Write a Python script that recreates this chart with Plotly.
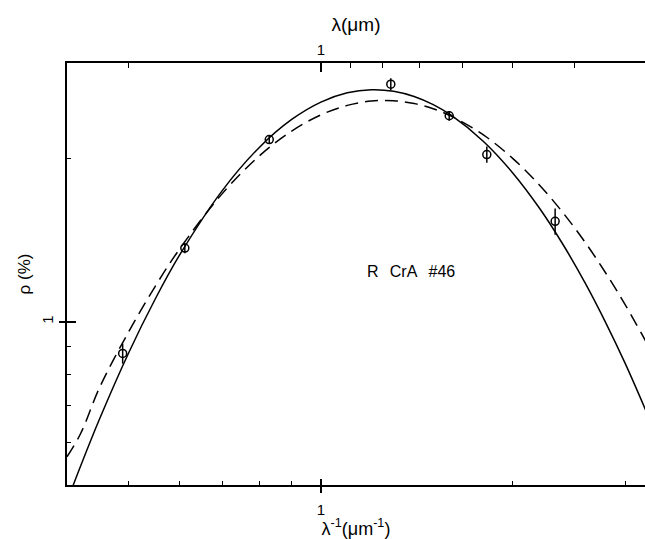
import numpy as np
import plotly.graph_objects as go

# Observations: inverse wavelength (um^-1), polarization (%), 1-sigma error (%)
obs_inv_lambda = [0.489, 0.612, 0.830, 1.287, 1.589, 1.820, 2.329]
obs_pol = [0.874, 1.367, 2.167, 2.742, 2.398, 2.034, 1.532]
obs_err = [0.037, 0.029, 0.036, 0.070, 0.050, 0.070, 0.085]

# Model curves
curve_inv_lambda = [0.40, 0.42, 0.45, 0.50, 0.55, 0.60, 0.70, 0.80, 0.90, 1.00, 1.10, 1.20,
                    1.30, 1.40, 1.50, 1.60, 1.80, 2.00, 2.20, 2.40, 2.60, 2.80, 3.00, 3.25]
solid_pol = [0.466, 0.5415, 0.6624, 0.8778, 1.1013, 1.3251, 1.7434, 2.0941, 2.3603, 2.5410,
             2.6430, 2.6786, 2.6614, 2.6028, 2.5138, 2.4034, 2.1478, 1.8793, 1.6207, 1.3837,
             1.1741, 0.9922, 0.8369, 0.6750]
dashed_pol = [0.5638, 0.6215, 0.7568, 0.9592, 1.1623, 1.3600, 1.7211, 2.0196, 2.2473, 2.4072,
              2.5057, 2.5522, 2.5557, 2.5258, 2.4700, 2.3949, 2.2084, 1.9994, 1.7876, 1.5845,
              1.3969, 1.2262, 1.0744, 0.9087]

# Axis ticks
x_major = [1]
x_minor = [0.5, 0.6, 0.7, 0.8, 0.9, 2, 3]
top_lambda_major = [1]
top_lambda_minor = [2, 0.9, 0.8, 0.7, 0.6, 0.5, 0.4]
y_major = [1]
y_minor = [0.6, 0.7, 0.8, 0.9, 2]

label_text = "R\u2002\u2009CrA\u2002\u2009#46"
label_pos = (1.384, 1.24)

x_lo = 0.4
x_hi = 0.4 * 10 ** (578 / 638)
xr = [np.log10(x_lo), np.log10(x_hi)]
yr = [np.log10(0.5), np.log10(3.0)]

FONT = "Liberation Sans, Arial, sans-serif"

fig = go.Figure()
fig.add_trace(go.Scatter(x=curve_inv_lambda, y=dashed_pol, mode="lines", line_shape="spline",
                         line=dict(color="black", width=1.5, dash="13px,7px"), showlegend=False))
fig.add_trace(go.Scatter(x=curve_inv_lambda, y=solid_pol, mode="lines", line_shape="spline",
                         line=dict(color="black", width=1.5), showlegend=False))
fig.add_trace(go.Scatter(x=obs_inv_lambda, y=obs_pol, mode="markers",
                         marker=dict(symbol="circle-open", size=8, color="black",
                                     line=dict(width=1.5, color="black")),
                         error_y=dict(type="data", array=obs_err, visible=True,
                                      color="black", thickness=1.5, width=0),
                         showlegend=False))

# helper invisible traces to activate overlay axes
fig.add_trace(go.Scatter(x=[1], y=[1], xaxis="x2", yaxis="y", mode="markers",
                         marker=dict(opacity=0), showlegend=False, hoverinfo="skip"))
fig.add_trace(go.Scatter(x=[1], y=[1], xaxis="x3", yaxis="y2", mode="markers",
                         marker=dict(opacity=0), showlegend=False, hoverinfo="skip"))

fig.add_annotation(x=np.log10(label_pos[0]), y=np.log10(label_pos[1]), xref="x", yref="y",
                   text=label_text, showarrow=False, font=dict(family=FONT, size=16, color="black"))

fig.update_layout(
    width=645, height=539,
    margin=dict(l=67, r=0, t=63, b=54),
    paper_bgcolor="white", plot_bgcolor="white",
    font=dict(family=FONT, color="black", size=14),
    xaxis=dict(type="log", range=xr, showgrid=False, zeroline=False,
               showline=True, linecolor="black", linewidth=1.5,
               tickmode="array", tickvals=x_major, ticktext=[str(v) for v in x_major],
               ticks="outside", ticklen=6, tickwidth=1.5, tickcolor="black",
               ticklabelstandoff=4,
               minor=dict(tickmode="array", tickvals=x_minor, ticks="inside", ticklen=4,
                          tickwidth=1.2, tickcolor="black", showgrid=False),
               tickfont=dict(size=15),
               title=dict(text="λ<sup>-1</sup>(μm<sup>-1</sup>)", font=dict(size=18), standoff=2)),
    xaxis2=dict(type="log", range=xr, overlaying="x", side="top", anchor="y",
                showgrid=False, zeroline=False, showline=True, linecolor="black", linewidth=1.5,
                tickmode="array", tickvals=[1 / v for v in top_lambda_major],
                ticktext=[str(v) for v in top_lambda_major],
                ticks="inside", ticklen=9, tickwidth=1.5, tickcolor="black",
                minor=dict(tickmode="array", tickvals=[1 / v for v in top_lambda_minor],
                           ticks="inside", ticklen=5, tickwidth=1.2, tickcolor="black",
                           showgrid=False),
                tickfont=dict(size=15),
                title=dict(text="λ(μm)", font=dict(size=19), standoff=5)),
    xaxis3=dict(type="log", range=xr, overlaying="x", side="bottom", anchor="y2",
                showgrid=False, zeroline=False, showline=False,
                tickmode="array", tickvals=x_major, showticklabels=False,
                ticks="inside", ticklen=6, tickwidth=1.5, tickcolor="black"),
    yaxis=dict(type="log", range=yr, showgrid=False, zeroline=False,
               showline=True, linecolor="black", linewidth=1.5,
               tickmode="array", tickvals=y_major, ticktext=[str(v) for v in y_major],
               ticks="outside", ticklen=6, tickwidth=1.5, tickcolor="black",
               minor=dict(tickmode="array", tickvals=y_minor, ticks="inside", ticklen=4,
                          tickwidth=1.2, tickcolor="black", showgrid=False),
               tickfont=dict(size=15), tickangle=-90,
               title=dict(text="ρ (%)", font=dict(size=17), standoff=4)),
    yaxis2=dict(type="log", range=yr, overlaying="y", side="left", anchor="x",
                showgrid=False, zeroline=False, showline=False,
                tickmode="array", tickvals=y_major, showticklabels=False,
                ticks="inside", ticklen=9, tickwidth=1.5, tickcolor="black"),
)

fig.write_html("out.html")
